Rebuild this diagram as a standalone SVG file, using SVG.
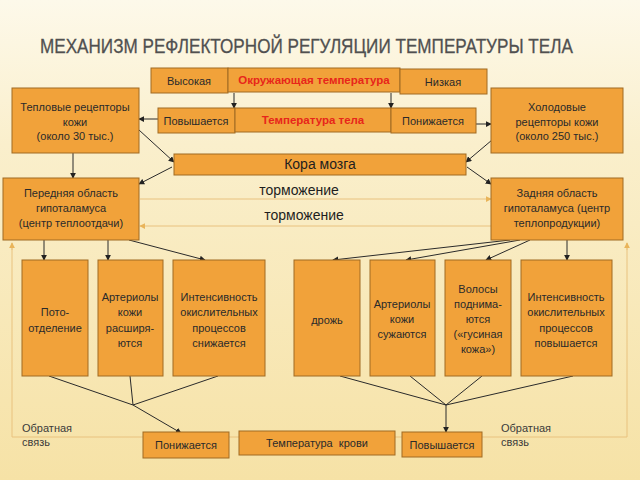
<svg xmlns="http://www.w3.org/2000/svg" width="640" height="480" viewBox="0 0 640 480">
<defs>
<linearGradient id="bg" x1="0" y1="0" x2="0" y2="1">
<stop offset="0" stop-color="#fdf9ea"/>
<stop offset="0.3" stop-color="#faefcc"/>
<stop offset="1" stop-color="#f6e2a6"/>
</linearGradient>
<marker id="ah" viewBox="0 0 8 8" refX="7" refY="4" markerWidth="6" markerHeight="6" orient="auto" markerUnits="userSpaceOnUse">
<path d="M0,0 L8,4 L0,8 z" fill="#222"/>
</marker>
<marker id="ahf" viewBox="0 0 8 8" refX="7" refY="4" markerWidth="6" markerHeight="6" orient="auto" markerUnits="userSpaceOnUse">
<path d="M0,0 L8,4 L0,8 z" fill="#e9b45a"/>
</marker>
</defs>
<style>
.box{fill:#f1a23a;stroke:#a06a22;stroke-width:1}
.t{font-family:"Liberation Sans",Arial,sans-serif;font-size:11px;fill:#2a2a2a;text-anchor:middle}
.tl{font-family:"Liberation Sans",Arial,sans-serif;font-size:11px;fill:#3a3a3a}
.red{font-family:"Liberation Sans",Arial,sans-serif;font-size:11.5px;font-weight:bold;fill:#e8261a;text-anchor:middle}
.big{font-family:"Liberation Sans",Arial,sans-serif;font-size:14px;fill:#1e1e1e;text-anchor:middle}
.ln{fill:none;stroke:#2a2a2a;stroke-width:1}
.fl{fill:none;stroke:#e9c27e;stroke-width:1}
.title{font-family:"Liberation Sans",Arial,sans-serif;font-size:21px;fill:#505050;stroke:#505050;stroke-width:0.3}
</style>
<rect width="640" height="480" fill="url(#bg)"/>

<text class="title" transform="translate(40,53) scale(0.8,1)" x="0" y="0" textLength="666" lengthAdjust="spacingAndGlyphs">МЕХАНИЗМ РЕФЛЕКТОРНОЙ РЕГУЛЯЦИИ ТЕМПЕРАТУРЫ ТЕЛА</text>

<g id="connectors">
<line class="ln" x1="234" y1="93" x2="234" y2="108" marker-end="url(#ah)"/>
<line class="ln" x1="391" y1="93" x2="391" y2="108" marker-end="url(#ah)"/>
<line class="ln" x1="158" y1="119" x2="139" y2="119" marker-end="url(#ah)"/>
<line class="ln" x1="476" y1="124" x2="491" y2="124" marker-end="url(#ah)"/>
<line class="ln" x1="139" y1="130" x2="174" y2="162" marker-end="url(#ah)"/>
<line class="ln" x1="492" y1="140" x2="466" y2="162" marker-end="url(#ah)"/>
<line class="ln" x1="73" y1="153" x2="73" y2="178" marker-end="url(#ah)"/>
<line class="ln" x1="172" y1="167" x2="139" y2="184" marker-end="url(#ah)"/>
<line class="ln" x1="467" y1="167" x2="491" y2="184" marker-end="url(#ah)"/>
<line class="fl" x1="140" y1="199" x2="491" y2="199" marker-end="url(#ahf)"/>
<line class="fl" x1="491" y1="226" x2="140" y2="226" marker-end="url(#ahf)"/>
<line class="ln" x1="44" y1="240" x2="44" y2="260" marker-end="url(#ah)"/>
<line class="ln" x1="108" y1="240" x2="108" y2="260" marker-end="url(#ah)"/>
<line class="ln" x1="129" y1="240" x2="205" y2="260" marker-end="url(#ah)"/>
<line class="ln" x1="510" y1="240" x2="333" y2="260" marker-end="url(#ah)"/>
<line class="ln" x1="520" y1="240" x2="406" y2="260" marker-end="url(#ah)"/>
<line class="ln" x1="530" y1="240" x2="486" y2="260" marker-end="url(#ah)"/>
<line class="ln" x1="567" y1="240" x2="567" y2="260" marker-end="url(#ah)"/>
<polyline class="ln" points="49,376 133,405 130,376"/>
<line class="ln" x1="218" y1="376" x2="133" y2="405"/>
<line class="ln" x1="133" y1="405" x2="181" y2="433" marker-end="url(#ah)"/>
<polyline class="ln" points="340,376 446,405 410,376"/>
<polyline class="ln" points="482,376 446,405 573,376"/>
<line class="ln" x1="446" y1="405" x2="446" y2="432" marker-end="url(#ah)"/>
<polyline class="fl" points="627,243 627,437 12,437 12,243"/>
<line class="fl" x1="12" y1="250" x2="12" y2="243" marker-end="url(#ahf)"/>
<line class="fl" x1="627" y1="250" x2="627" y2="243" marker-end="url(#ahf)"/>
</g>

<g id="high"><rect class="box" x="151" y="68" width="77" height="25"/><text class="t" x="189" y="85">Высокая</text></g>
<g id="ambient"><rect class="box" x="228" y="68" width="172" height="24"/><text class="red" x="314" y="84">Окружающая температура</text></g>
<g id="low"><rect class="box" x="400" y="69" width="87" height="25"/><text class="t" x="443" y="86">Низкая</text></g>

<g id="heat-receptors"><rect class="box" x="12" y="88" width="127" height="65"/>
<text class="t" x="75" y="111">Тепловые рецепторы</text><text class="t" x="75" y="126">кожи</text><text class="t" x="75" y="140">(около 30 тыс.)</text></g>
<g id="rises"><rect class="box" x="158" y="108" width="77" height="25"/><text class="t" x="196" y="125">Повышается</text></g>
<g id="body-temp"><rect class="box" x="235" y="108" width="156" height="24"/><text class="red" x="313" y="124">Температура тела</text></g>
<g id="falls"><rect class="box" x="391" y="108" width="85" height="25"/><text class="t" x="433" y="125">Понижается</text></g>
<g id="cold-receptors"><rect class="box" x="491" y="88" width="132" height="65"/>
<text class="t" x="557" y="111">Холодовые</text><text class="t" x="557" y="126">рецепторы кожи</text><text class="t" x="557" y="140">(около 250 тыс.)</text></g>

<g id="cortex"><rect class="box" x="174" y="154" width="292" height="21"/><text class="big" x="320" y="169">Кора мозга</text></g>

<g id="anterior"><rect class="box" x="3" y="178" width="136" height="62"/>
<text class="t" x="71" y="197">Передняя область</text><text class="t" x="71" y="212">гипоталамуса</text><text class="t" x="71" y="227">(центр теплоотдачи)</text></g>
<g id="posterior"><rect class="box" x="491" y="178" width="132" height="62"/>
<text class="t" x="557" y="197">Задняя область</text><text class="t" x="557" y="212">гипоталамуса (центр</text><text class="t" x="557" y="227">теплопродукции)</text></g>

<text class="big" x="299" y="195">торможение</text>
<text class="big" x="304" y="220">торможение</text>

<g id="sweat"><rect class="box" x="22" y="260" width="66" height="116"/>
<text class="t" x="55" y="316">Пото-</text><text class="t" x="55" y="332">отделение</text></g>
<g id="dilate"><rect class="box" x="98" y="260" width="65" height="116"/>
<text class="t" x="130" y="301">Артериолы</text><text class="t" x="130" y="316">кожи</text><text class="t" x="130" y="332">расширя-</text><text class="t" x="130" y="347">ются</text></g>
<g id="ox-down"><rect class="box" x="173" y="260" width="92" height="116"/>
<text class="t" x="219" y="301">Интенсивность</text><text class="t" x="219" y="316">окислительных</text><text class="t" x="219" y="332">процессов</text><text class="t" x="219" y="347">снижается</text></g>

<g id="shiver"><rect class="box" x="294" y="260" width="66" height="116"/>
<text class="t" x="327" y="324">дрожь</text></g>
<g id="constrict"><rect class="box" x="370" y="260" width="65" height="116"/>
<text class="t" x="402" y="308">Артериолы</text><text class="t" x="402" y="323">кожи</text><text class="t" x="402" y="338">сужаются</text></g>
<g id="hair"><rect class="box" x="445" y="260" width="66" height="116"/>
<text class="t" x="478" y="293">Волосы</text><text class="t" x="478" y="308">поднима-</text><text class="t" x="478" y="323">ются</text><text class="t" x="478" y="338">(«гусиная</text><text class="t" x="478" y="353">кожа»)</text></g>
<g id="ox-up"><rect class="box" x="521" y="260" width="91" height="116"/>
<text class="t" x="566" y="301">Интенсивность</text><text class="t" x="566" y="316">окислительных</text><text class="t" x="566" y="332">процессов</text><text class="t" x="566" y="347">повышается</text></g>

<g id="feedback-left"><text class="tl" x="22" y="432">Обратная</text><text class="tl" x="22" y="446">связь</text></g>
<g id="blood-falls"><rect class="box" x="143" y="432" width="86" height="26"/><text class="t" x="186" y="449">Понижается</text></g>
<g id="blood-temp"><rect class="box" x="239" y="431" width="156" height="24"/><text class="t" x="317" y="447" xml:space="preserve">Температура  крови</text></g>
<g id="blood-rises"><rect class="box" x="402" y="432" width="80" height="25"/><text class="t" x="442" y="449">Повышается</text></g>
<g id="feedback-right"><text class="tl" x="501" y="432">Обратная</text><text class="tl" x="501" y="446">связь</text></g>
</svg>
